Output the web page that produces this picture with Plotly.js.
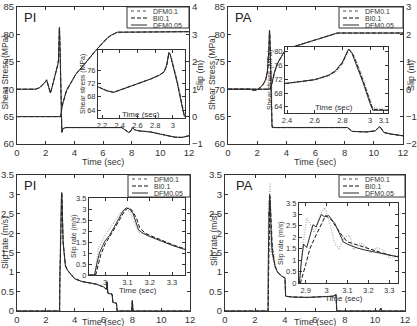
<!DOCTYPE html>
<html>
<head>
<meta charset="utf-8">
<script src="https://cdn.plot.ly/plotly-3.0.1.min.js"></script>
<style>
  html, body { margin: 0; padding: 0; background: #fff; }
  #chart { width: 417px; height: 326px; }
</style>
</head>
<body>
<div id="chart"></div>
<script>
// ---------- series and tick labels ----------
const seriesNames = ['DFM0.1', 'BI0.1', 'DFM0.05'];
const panelNames = ['PI', 'PA'];

const timeTicks = [0, 2, 4, 6, 8, 10, 12];
const stressTicks = [60, 65, 70, 75, 80, 85];
const piSlipTicks = [-1, 0, 1, 2, 3, 4];
const paSlipTicks = [-2, -1, 0, 1, 2, 3];
const rateTicks = [0, 0.5, 1, 1.5, 2, 2.5, 3, 3.5];
const piInsetTimeTicks = [2.2, 2.4, 2.6, 2.8, 3];
const piInsetStressTicks = [64, 68, 72, 76];
const paInsetTimeTicks = [2.4, 2.6, 2.8, 3, 3.1];
const paInsetStressTicks = [64, 68, 72, 76, 80];
const piInsetRateTimeTicks = [3, 3.1, 3.2, 3.3];
const paInsetRateTimeTicks = [2.9, 3, 3.1, 3.2, 3.3];

// PI: shear stress (MPa)
const piStressPreT = [0, 1.3, 1.6, 1.85, 2.0, 2.07];
const piStressPre = [70, 70, 70.3, 70.9, 71.4, 71.7];
const piStressWinT = [2.15, 2.25, 2.33, 2.45, 2.6, 2.75, 2.85, 2.9, 2.93, 2.955, 2.97, 3.0, 3.05, 3.1, 3.13];
const piStressDFM1 = [71.0, 69.9, 69.4, 70.4, 71.9, 73.3, 74.4, 75.3, 77.0, 80.9, 80.8, 78.2, 72.8, 66.4, 62.3];
const piStressBI1 = [71.0, 69.8, 69.3, 70.4, 71.9, 73.3, 74.5, 75.4, 77.2, 81.1, 80.7, 77.9, 72.4, 66.0, 62.2];
const piStressDFM05 = [71.0, 69.8, 69.3, 70.4, 71.9, 73.3, 74.5, 75.5, 77.5, 81.3, 80.6, 77.6, 72.0, 65.5, 62.1];
const piStressPostT = [3.2, 3.4, 7.3, 7.55, 7.8, 7.95, 8.05, 8.2, 8.5, 9.3, 10, 11, 11.5, 12];
const piStressPost = [62.8, 63, 63, 62.6, 62.1, 62.4, 63.0, 62.6, 62.4, 62.2, 61.8, 61.25, 61.2, 61.5];

// PI: slip (m)
const piSlipT = [0, 3.05, 3.12, 3.2, 3.45, 4.1, 4.6, 5.0, 5.5, 6.0, 6.3, 6.6, 7.0, 12];
const piSlipDFM1 = [0, 0, 0.27, 0.47, 0.93, 1.54, 1.84, 2.11, 2.41, 2.69, 2.86, 2.97, 3.07, 3.09];
const piSlipBI1 = [0, 0, 0.28, 0.48, 0.94, 1.54, 1.85, 2.12, 2.42, 2.7, 2.87, 2.98, 3.08, 3.1];
const piSlipDFM05 = [0, 0, 0.3, 0.5, 0.95, 1.55, 1.85, 2.12, 2.42, 2.7, 2.87, 2.98, 3.08, 3.1];

// PA: shear stress (MPa)
const paStressPreT = [0, 1.5, 1.8, 2.0, 2.2];
const paStressPre = [70, 70, 69.8, 69.9, 70.3];
const paStressWinT = [2.39, 2.5, 2.6, 2.7, 2.75, 2.8, 2.83, 2.845, 2.87, 2.9, 2.95, 3.0, 3.02, 3.13];
const paStressDFM1 = [70.8, 71.2, 71.8, 73.0, 74.1, 76.4, 79.0, 80.5, 80.0, 77.5, 72.2, 66.3, 63.8, 63.0];
const paStressBI1 = [70.8, 71.3, 71.9, 73.1, 74.3, 76.7, 79.4, 80.7, 79.8, 77.0, 71.6, 65.6, 63.3, 63.0];
const paStressDFM05 = [70.8, 71.3, 71.9, 73.2, 74.5, 77.0, 79.8, 80.8, 79.5, 76.5, 71.0, 65.0, 63.0, 63.0];
const paStressPostT = [3.3, 8.2, 8.5, 9.5, 10.1, 10.4, 10.7, 11.2, 12];
const paStressPost = [63, 63, 62.3, 62.2, 62.4, 63.2, 62.1, 61.8, 61.5];

// PA: slip (m)
const paSlipT = [0, 2.9, 3.0, 3.1, 3.2, 3.4, 3.6, 3.8, 4.0, 5, 6, 7, 7.5, 12];
const paSlipDFM1 = [0, 0, 0.17, 0.42, 0.62, 0.93, 1.13, 1.31, 1.46, 1.62, 1.79, 1.95, 2.04, 2.04];
const paSlipBI1 = [0, 0, 0.18, 0.43, 0.64, 0.94, 1.14, 1.32, 1.47, 1.63, 1.8, 1.96, 2.05, 2.05];
const paSlipDFM05 = [0, 0, 0.2, 0.45, 0.65, 0.95, 1.15, 1.32, 1.47, 1.63, 1.8, 1.96, 2.05, 2.05];

// PI: slip rate (m/s)
const piRatePreT = [0, 2.95];
const piRatePre = [0, 0];
const piRateDFM1T = [2.953, 2.97, 3.0, 3.04, 3.07, 3.09, 3.11, 3.13, 3.15, 3.18, 3.22, 3.28, 3.36];
const piRateDFM1 = [0, 1.2, 1.8, 2.4, 2.85, 3.0, 2.9, 2.4, 1.95, 1.85, 1.7, 1.45, 1.15];
const piRateBI1T = [2.958, 2.98, 3.0, 3.03, 3.06, 3.09, 3.105, 3.12, 3.14, 3.155, 3.18, 3.2, 3.25, 3.3, 3.36];
const piRateBI1 = [0, 0.9, 1.4, 1.9, 2.4, 2.95, 3.05, 2.95, 2.6, 2.15, 1.9, 1.8, 1.6, 1.38, 1.18];
const piRateDFM05T = [2.953, 2.965, 2.975, 2.99, 3.0, 3.02, 3.04, 3.06, 3.08, 3.095, 3.11, 3.125, 3.14, 3.15, 3.17, 3.2, 3.25, 3.3, 3.36];
const piRateDFM05 = [0, 0.6, 1.0, 1.35, 1.55, 1.8, 2.15, 2.55, 2.9, 3.05, 3.0, 2.8, 2.3, 2.05, 1.9, 1.75, 1.55, 1.35, 1.15];
const piRatePostT = [3.5, 3.7, 4, 4.5, 5, 5.5, 6, 6.2, 6.25, 6.3, 6.6, 6.65, 6.9, 6.95, 7.95, 8.0, 8.05, 12];
const piRatePost = [1.05, 0.95, 0.83, 0.76, 0.72, 0.69, 0.62, 0.56, 0.75, 0.46, 0.43, 0.22, 0.2, 0, 0, 0.27, 0, 0];

// PA: slip rate (m/s)
const paRatePreT = [0, 2.86];
const paRatePre = [0, 0];
const paRateDFM1T = [2.87, 2.885, 2.905, 2.925, 2.94, 2.965, 2.99, 3.01, 3.04, 3.06, 3.085, 3.11, 3.13, 3.16, 3.19, 3.21, 3.24, 3.27, 3.3, 3.34];
const paRateDFM1 = [0, 1.5, 2.85, 2.5, 2.2, 2.9, 3.3, 2.8, 1.7, 1.5, 2.0, 2.1, 1.45, 1.75, 1.6, 1.3, 1.55, 1.45, 1.1, 1.2];
const paRateBI1T = [2.875, 2.9, 2.92, 2.95, 2.975, 2.995, 3.02, 3.05, 3.08, 3.1, 3.15, 3.2, 3.25, 3.3, 3.34];
const paRateBI1 = [0, 0.8, 1.5, 2.1, 2.6, 2.95, 2.8, 2.4, 2.0, 1.8, 1.65, 1.5, 1.35, 1.22, 1.15];
const paRateDFM05T = [2.87, 2.88, 2.89, 2.905, 2.92, 2.935, 2.95, 2.975, 2.99, 3.01, 3.04, 3.065, 3.08, 3.1, 3.14, 3.18, 3.23, 3.28, 3.34];
const paRateDFM05 = [0, 1.0, 1.7, 1.55, 2.0, 2.55, 2.45, 3.0, 2.9, 2.95, 2.6, 2.1, 1.8, 1.7, 1.55, 1.45, 1.35, 1.25, 1.15];
const paRatePostT = [3.5, 3.7, 3.9, 4.0, 4.04, 4.5, 5.5, 6.5, 7.2, 7.4, 7.45, 10.3, 10.4, 10.45, 12];
const paRatePost = [1.0, 0.92, 0.87, 0.85, 0.38, 0.36, 0.35, 0.36, 0.38, 0.42, 0, 0, 0.07, 0, 0];

// ---------- page geometry (pixels of the 417 x 326 page) ----------
const W = 417, H = 326;
const X = px => px / W;
const Y = py => 1 - py / H;
const xDom = (a, b) => [X(a), X(b)];
const yDom = (top, bottom) => [Y(bottom), Y(top)];

// ---------- line styles ----------
const lineStyle = {
  'DFM0.1': { color: '#b4b4b4', width: 1.4, dash: '1px,1.5px' },
  'BI0.1': { color: '#111111', width: 1, dash: '4px,2px' },
  'DFM0.05': { color: '#2a2a2a', width: 1 }
};

function line(name, x, y, xa, ya) {
  return {
    type: 'scatter', mode: 'lines', name: name, x: x, y: y,
    xaxis: xa, yaxis: ya, line: lineStyle[name], showlegend: false,
    hoverinfo: 'skip'
  };
}

// each series of a panel: [times, values] per series name
const piStress = {
  'DFM0.1': [piStressPreT.concat(piStressWinT, piStressPostT), piStressPre.concat(piStressDFM1, piStressPost)],
  'BI0.1': [piStressPreT.concat(piStressWinT, piStressPostT), piStressPre.concat(piStressBI1, piStressPost)],
  'DFM0.05': [piStressPreT.concat(piStressWinT, piStressPostT), piStressPre.concat(piStressDFM05, piStressPost)]
};
const piSlip = {
  'DFM0.1': [piSlipT, piSlipDFM1], 'BI0.1': [piSlipT, piSlipBI1], 'DFM0.05': [piSlipT, piSlipDFM05]
};
const paStress = {
  'DFM0.1': [paStressPreT.concat(paStressWinT, paStressPostT), paStressPre.concat(paStressDFM1, paStressPost)],
  'BI0.1': [paStressPreT.concat(paStressWinT, paStressPostT), paStressPre.concat(paStressBI1, paStressPost)],
  'DFM0.05': [paStressPreT.concat(paStressWinT, paStressPostT), paStressPre.concat(paStressDFM05, paStressPost)]
};
const paSlip = {
  'DFM0.1': [paSlipT, paSlipDFM1], 'BI0.1': [paSlipT, paSlipBI1], 'DFM0.05': [paSlipT, paSlipDFM05]
};
const piRate = {
  'DFM0.1': [piRatePreT.concat(piRateDFM1T, piRatePostT), piRatePre.concat(piRateDFM1, piRatePost)],
  'BI0.1': [piRatePreT.concat(piRateBI1T, piRatePostT), piRatePre.concat(piRateBI1, piRatePost)],
  'DFM0.05': [piRatePreT.concat(piRateDFM05T, piRatePostT), piRatePre.concat(piRateDFM05, piRatePost)]
};
const paRate = {
  'DFM0.1': [paRatePreT.concat(paRateDFM1T, paRatePostT), paRatePre.concat(paRateDFM1, paRatePost)],
  'BI0.1': [paRatePreT.concat(paRateBI1T, paRatePostT), paRatePre.concat(paRateBI1, paRatePost)],
  'DFM0.05': [paRatePreT.concat(paRateDFM05T, paRatePostT), paRatePre.concat(paRateDFM05, paRatePost)]
};

// main panels first, insets last so that insets sit on top
const plotOrder = [
  [piStress, 'x', 'y'], [piSlip, 'x', 'y2'],
  [paStress, 'x2', 'y3'], [paSlip, 'x2', 'y4'],
  [piRate, 'x3', 'y5'], [paRate, 'x4', 'y6'],
  [piStress, 'x5', 'y7'], [paStress, 'x6', 'y8'],
  [piRate, 'x7', 'y9'], [paRate, 'x8', 'y10']
];
const traces = [];
plotOrder.forEach(([set, xa, ya]) => {
  seriesNames.forEach(n => traces.push(line(n, set[n][0], set[n][1], xa, ya)));
});

// ---------- axes ----------
const FONT = 'Liberation Sans, Arial, sans-serif';
const TEXT = '#333';
const frameColor = '#333';
const tickLabel = v => (v < 0 ? '\u2212' + Math.abs(v) : String(v));
function axis(extra, tickSize) {
  const a = {
    showline: true, linecolor: frameColor, linewidth: 1,
    ticks: 'inside', ticklen: 3, tickwidth: 1, tickcolor: frameColor,
    showgrid: false, zeroline: false, automargin: false, fixedrange: true,
    tickfont: { size: tickSize || 9.5, color: TEXT, family: FONT },
    tickmode: 'array'
  };
  Object.assign(a, extra);
  if (a.tickvals) a.ticktext = a.tickvals.map(tickLabel);
  return a;
}
const INSET_TICK = 7.5;

const layout = {
  width: W, height: H,
  margin: { l: 0, r: 0, t: 0, b: 0 },
  paper_bgcolor: '#fff', plot_bgcolor: '#fff',
  showlegend: false,
  font: { family: FONT, color: TEXT },

  // PI stress / slip
  xaxis: axis({ domain: xDom(17, 189), range: [0, 12], tickvals: timeTicks, anchor: 'y', mirror: 'ticks' }),
  yaxis: axis({ domain: yDom(7, 144), range: [60, 85], tickvals: stressTicks, anchor: 'x' }),
  yaxis2: axis({ range: [-1, 4], tickvals: piSlipTicks, overlaying: 'y', side: 'right', anchor: 'x' }),

  // PA stress / slip
  xaxis2: axis({ domain: xDom(228, 403), range: [0, 12], tickvals: timeTicks, anchor: 'y3', mirror: 'ticks' }),
  yaxis3: axis({ domain: yDom(7, 144), range: [60, 85], tickvals: stressTicks, anchor: 'x2' }),
  yaxis4: axis({ range: [-2, 3], tickvals: paSlipTicks, overlaying: 'y3', side: 'right', anchor: 'x2' }),

  // PI slip rate
  xaxis3: axis({ domain: xDom(17, 190), range: [0, 12], tickvals: timeTicks, anchor: 'y5', mirror: 'ticks' }),
  yaxis5: axis({ domain: yDom(175, 311), range: [0, 3.5], tickvals: rateTicks, anchor: 'x3', mirror: 'ticks' }),

  // PA slip rate
  xaxis4: axis({ domain: xDom(225, 405), range: [0, 12], tickvals: timeTicks, anchor: 'y6', mirror: 'ticks' }),
  yaxis6: axis({ domain: yDom(175, 311), range: [0, 3.5], tickvals: rateTicks, anchor: 'x4', mirror: 'ticks' }),

  // insets
  xaxis5: axis({ domain: xDom(98, 185), range: [2.154, 3.137], tickvals: piInsetTimeTicks, anchor: 'y7', mirror: 'ticks' }, INSET_TICK),
  yaxis7: axis({ domain: yDom(50, 118), range: [61.6, 82], tickvals: piInsetStressTicks, anchor: 'x5', mirror: 'ticks' }, INSET_TICK),
  xaxis6: axis({ domain: xDom(285, 388), range: [2.385, 3.13], tickvals: paInsetTimeTicks, anchor: 'y8', mirror: 'ticks' }, INSET_TICK),
  yaxis8: axis({ domain: yDom(47, 113), range: [62.2, 81.4], tickvals: paInsetStressTicks, anchor: 'x6', mirror: 'ticks' }, INSET_TICK),
  xaxis7: axis({ domain: xDom(89, 185), range: [2.928, 3.358], tickvals: piInsetRateTimeTicks, anchor: 'y9', mirror: 'ticks' }, INSET_TICK),
  yaxis9: axis({ domain: yDom(198, 275), range: [0, 3.5], tickvals: rateTicks, anchor: 'x7', mirror: 'ticks' }, INSET_TICK),
  xaxis8: axis({ domain: xDom(299, 398), range: [2.868, 3.342], tickvals: paInsetRateTimeTicks, anchor: 'y10', mirror: 'ticks' }, INSET_TICK),
  yaxis10: axis({ domain: yDom(203, 283), range: [0, 3.5], tickvals: rateTicks, anchor: 'x8', mirror: 'ticks' }, INSET_TICK),

  shapes: [],
  annotations: []
};

// axis titles, placed by centre point in page pixels
function label(text, px, py, size, angle) {
  layout.annotations.push({
    text: text, xref: 'paper', yref: 'paper', x: X(px), y: Y(py),
    xanchor: 'center', yanchor: 'middle', showarrow: false, textangle: angle || 0,
    font: { size: size, color: TEXT, family: FONT }
  });
}
// main panels
label('Time (sec)', 103, 161.5, 9);
label('Time (sec)', 315, 161.5, 9);
label('Time (sec)', 103, 321.5, 9);
label('Time (sec)', 315, 321.5, 9);
label('Shear Stress (MPa)', 4.5, 72, 8.5, -90);
label('Shear Stress (MPa)', 212, 72, 8.5, -90);
label('Slip (m)', 200, 76, 9, -90);
label('Slip (m)', 411, 76, 9, -90);
label('Slip rate (m/s)', 5, 243, 8.5, -90);
label('Slip rate (m/s)', 214, 240, 8.5, -90);
// insets
label('Time (sec)', 141, 114, 8);
label('Time (sec)', 334, 108, 8);
label('Time (sec)', 138, 290, 8);
label('Time (sec)', 344, 298, 8);
label('Shear stress (MPa)', 83, 84, 7, -90);
label('Shear stress (MPa)', 270, 80, 7, -90);
label('Slip rate (m/s)', 74, 236, 7, -90);
label('Slip rate (m/s)', 281, 243, 7, -90);

// panel labels
[[22, 17, 0], [233, 17, 1], [22, 185, 0], [234, 185, 1]].forEach(([px, py, k]) => {
  layout.annotations.push({
    text: panelNames[k], xref: 'paper', yref: 'paper', x: X(px), y: Y(py),
    xanchor: 'left', yanchor: 'middle', showarrow: false,
    font: { size: 13, color: '#222', family: FONT }
  });
});

// legends: framed key in the top-right corner of each main panel
const legendBoxes = [[127, 189, 7, 28], [339, 403, 7, 28], [128, 190, 175, 197], [339, 405, 175, 197]];
legendBoxes.forEach(([x0, x1, y0, y1]) => {
  layout.shapes.push({
    type: 'rect', xref: 'paper', yref: 'paper', x0: X(x0), x1: X(x1), y0: Y(y1), y1: Y(y0),
    line: { color: frameColor, width: 1 }, fillcolor: '#fff', layer: 'above'
  });
  seriesNames.forEach((n, i) => {
    const cy = y0 + 4 + i * 7;
    const st = lineStyle[n];
    layout.shapes.push({
      type: 'line', xref: 'paper', yref: 'paper', x0: X(x0 + 4), x1: X(x0 + 20), y0: Y(cy), y1: Y(cy),
      line: { color: n === 'DFM0.1' ? '#888' : st.color, width: st.width, dash: n === 'DFM0.1' ? 'dot' : (st.dash || 'solid') },
      layer: 'above'
    });
    layout.annotations.push({
      text: n, xref: 'paper', yref: 'paper', x: X(x0 + 24), y: Y(cy),
      xanchor: 'left', yanchor: 'middle', showarrow: false,
      font: { size: 7, color: TEXT, family: FONT }
    });
  });
});

Plotly.newPlot('chart', traces, layout, { staticPlot: true, displayModeBar: false });
</script>
</body>
</html>
